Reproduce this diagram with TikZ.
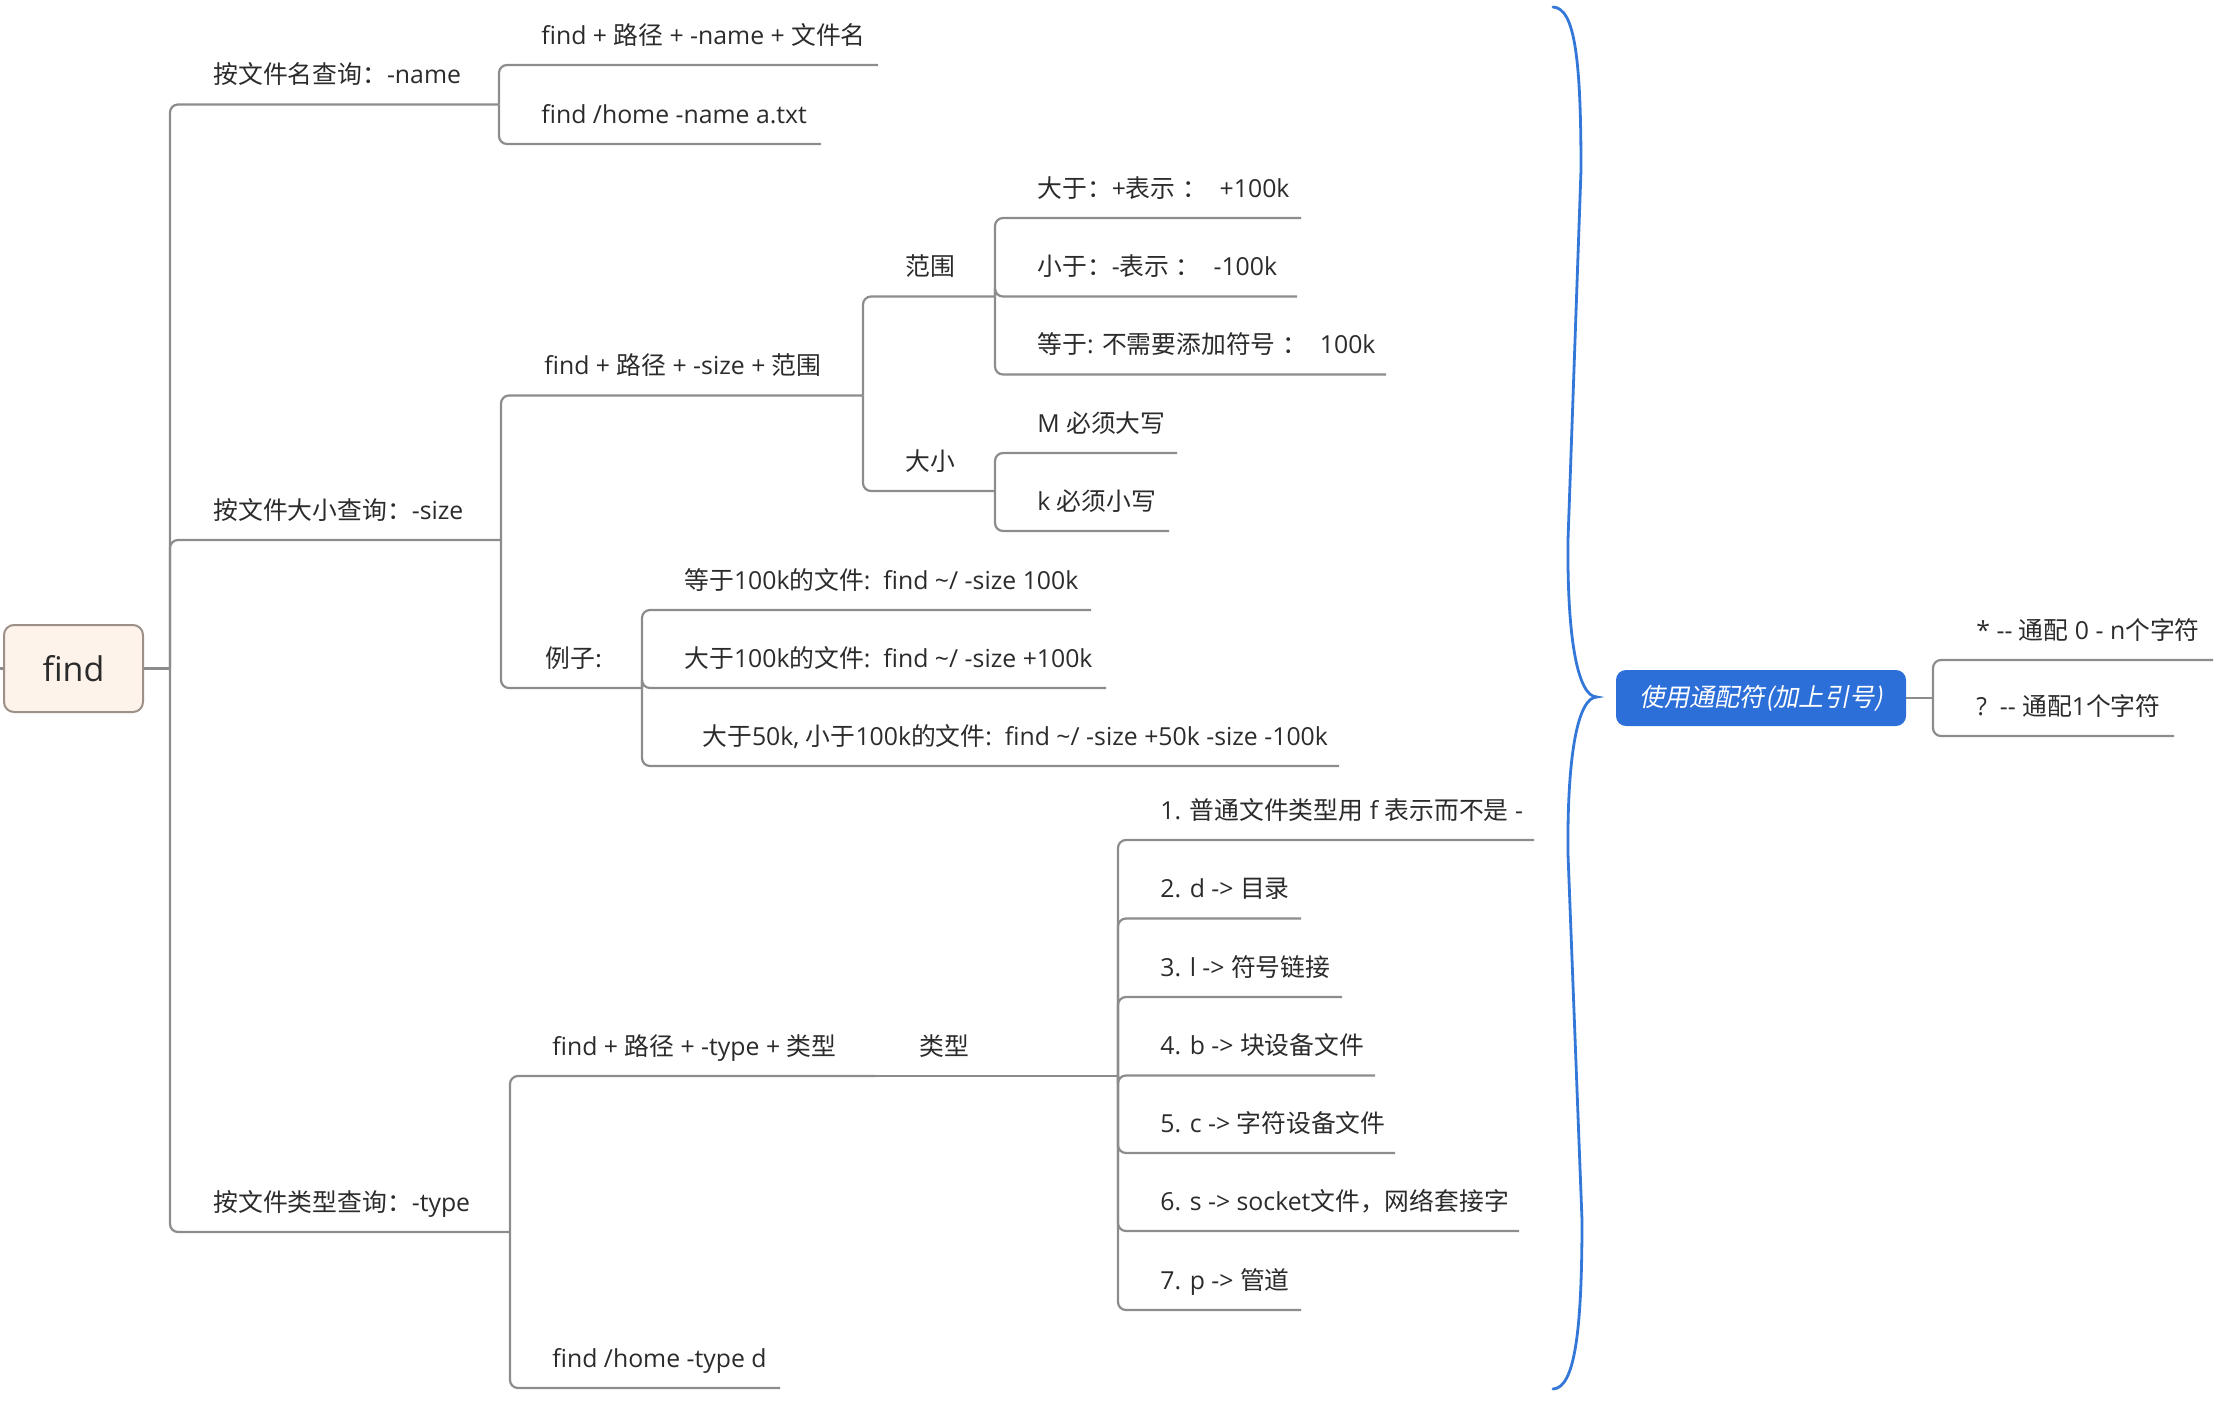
\documentclass[tikz,border=0pt]{standalone}
\usepackage{fontspec}
\setmainfont{Open Sans}
\newfontfamily\cjk{Noto Sans CJK SC}
\newfontfamily\cjkit[FakeSlant=0.2]{Noto Sans CJK SC}
\newcommand\zh[1]{{\cjk #1}}
\newcommand\fc{{\cjk ：}}
\definecolor{txt}{HTML}{2B2B2B}
\definecolor{linegray}{HTML}{8C8C8C}
\definecolor{rootfill}{HTML}{FDF3EA}
\definecolor{rootline}{HTML}{9C9088}
\definecolor{wildblue}{HTML}{2D6FD8}
\definecolor{braceblue}{HTML}{3378D8}
\begin{document}
\begin{tikzpicture}[x=0.5pt,y=-0.5pt,
  topic/.style={anchor=base west, inner sep=0pt, font=\fontsize{12.4}{14}\selectfont, text=txt},
  conn/.style={draw=linegray, line width=1.1pt, rounded corners=4pt},
  rootbox/.style={draw=rootline, fill=rootfill, line width=1pt, rounded corners=5pt,
    minimum width=69.5pt, minimum height=43.5pt, inner sep=0pt, text=txt,
    font=\fontsize{17}{20}\selectfont},
  wildbox/.style={fill=wildblue, rounded corners=5pt, minimum width=145pt, minimum height=28pt,
    inner sep=0pt, text=white, font=\fontsize{12.6}{15}\selectfont\cjkit},
  brace/.style={draw=braceblue, line width=1.4pt, line cap=round}]
\useasboundingbox (0,0) rectangle (2224,1414);

% root
\node[rootbox] (root) at (73.5,668.5) {find};
\coordinate (stub) at (0,668.5);
\coordinate (rootj) at (170,668.5);
\draw[conn] (stub) -- (root);
\draw[conn] (root) -- (rootj);

% level 1
\coordinate (b1e) at (499,104.5);
\coordinate (b2e) at (501,540);
\coordinate (b3e) at (510,1232);
\node[topic] (b1) at (213,83.5) {\zh{按文件名查询}\fc-name};
\node[topic] (b2) at (213,519) {\zh{按文件大小查询}\fc-size};
\node[topic] (b3) at (213,1211) {\zh{按文件类型查询}\fc-type};
\draw[conn] (rootj) |- (b1e);
\draw[conn] (rootj) |- (b2e);
\draw[conn] (rootj) |- (b3e);

% name branch
\coordinate (n1e) at (878,65);
\coordinate (n2e) at (821,144);
\node[topic] (n1) at (541,44) {find + \zh{路径} + -name + \zh{文件名}};
\node[topic] (n2) at (541,123) {find /home -name a.txt};
\draw[conn] (b1e) |- (n1e);
\draw[conn] (b1e) |- (n2e);

% size branch
\coordinate (s1e) at (863,395.5);
\coordinate (s2e) at (642,688);
\node[topic] (s1) at (544,374.5) {find + \zh{路径} + -size + \zh{范围}};
\node[topic] (s2) at (545,667) {\zh{例子:}};
\draw[conn] (b2e) |- (s1e);
\draw[conn] (b2e) |- (s2e);

\coordinate (r1e) at (995,296.5);
\coordinate (r2e) at (995,491);
\node[topic] (r1) at (905,275.5) {\zh{范围}};
\node[topic] (r2) at (905,470) {\zh{大小}};
\draw[conn] (s1e) |- (r1e);
\draw[conn] (s1e) |- (r2e);

\coordinate (r11e) at (1301,218);
\coordinate (r12e) at (1297,296.5);
\coordinate (r13e) at (1386,374.5);
\node[topic] (r11) at (1037,197) {\zh{大于}\fc+\zh{表示}\ \fc\ \ +100k};
\node[topic] (r12) at (1037,275.5) {\zh{小于}\fc-\zh{表示}\ \fc\ \ -100k};
\node[topic] (r13) at (1037,353.5) {\zh{等于}: \zh{不需要添加符号}\ \fc\ \ 100k};
\draw[conn] (r1e) |- (r11e);
\draw[conn] (r1e) |- (r12e);
\draw[conn] (r1e) |- (r13e);

\coordinate (r21e) at (1177,453);
\coordinate (r22e) at (1169,531);
\node[topic] (r21) at (1037,432) {M \zh{必须大写}};
\node[topic] (r22) at (1037,510) {k \zh{必须小写}};
\draw[conn] (r2e) |- (r21e);
\draw[conn] (r2e) |- (r22e);

\coordinate (e1e) at (1091,610);
\coordinate (e2e) at (1106,688);
\coordinate (e3e) at (1339,766);
\node[topic] (e1) at (684,589) {\zh{等于}100k\zh{的文件}:\ \ find \textasciitilde/ -size 100k};
\node[topic] (e2) at (684,667) {\zh{大于}100k\zh{的文件}:\ \ find \textasciitilde/ -size +100k};
\node[topic] (e3) at (702,745) {\zh{大于}50k, \zh{小于}100k\zh{的文件}:\ \ find \textasciitilde/ -size +50k -size -100k};
\draw[conn] (s2e) |- (e1e);
\draw[conn] (s2e) |- (e2e);
\draw[conn] (s2e) |- (e3e);

% type branch
\coordinate (t1e) at (875,1076);
\coordinate (t2e) at (780,1388);
\node[topic] (t1) at (552,1055) {find + \zh{路径} + -type + \zh{类型}};
\node[topic] (t2) at (552,1367) {find /home -type d};
\draw[conn] (b3e) |- (t1e);
\draw[conn] (b3e) |- (t2e);

\coordinate (tye) at (1118,1076);
\node[topic] (ty) at (919,1055) {\zh{类型}};
\draw[conn] (t1e) -- (tye);

\coordinate (k1e) at (1534,840);
\coordinate (k2e) at (1301,918.5);
\coordinate (k3e) at (1342,997);
\coordinate (k4e) at (1375,1075.5);
\coordinate (k5e) at (1395,1153);
\coordinate (k6e) at (1519,1231);
\coordinate (k7e) at (1301,1310);
\node[topic] (k1) at (1160,819) {1. \zh{普通文件类型用} f \zh{表示而不是} -};
\node[topic] (k2) at (1160,897.5) {2. d -> \zh{目录}};
\node[topic] (k3) at (1160,976) {3. l -> \zh{符号链接}};
\node[topic] (k4) at (1160,1054.5) {4. b -> \zh{块设备文件}};
\node[topic] (k5) at (1160,1132) {5. c -> \zh{字符设备文件}};
\node[topic] (k6) at (1160,1210) {6. s -> socket\zh{文件，网络套接字}};
\node[topic] (k7) at (1160,1289) {7. p -> \zh{管道}};
\foreach \k in {k1e,k2e,k3e,k4e,k5e,k6e,k7e}
  \draw[conn] (tye) |- (\k);

% summary brace
\draw[brace] (1553,7) .. controls (1575,8) and (1581,60) .. (1581,170)
  -- (1568,540) .. controls (1567,640) and (1578,697) .. (1597,697)
  .. controls (1578,697) and (1567,754) .. (1568,854)
  -- (1582,1220) .. controls (1582,1330) and (1575,1388) .. (1553,1389);

% wildcard topic
\node[wildbox] (wild) at (1761,698) {使用通配符(加上引号)};
\coordinate (wj) at (1933,698);
\draw[conn] (wild) -- (wj);
\coordinate (w1e) at (2213,660);
\coordinate (w2e) at (2174,736);
\node[topic] (w1) at (1976,639) {* -{}- \zh{通配} 0 - n\zh{个字符}};
\node[topic] (w2) at (1976,715) {?\ \ -{}- \zh{通配}1\zh{个字符}};
\draw[conn] (wj) |- (w1e);
\draw[conn] (wj) |- (w2e);
\end{tikzpicture}
\end{document}
